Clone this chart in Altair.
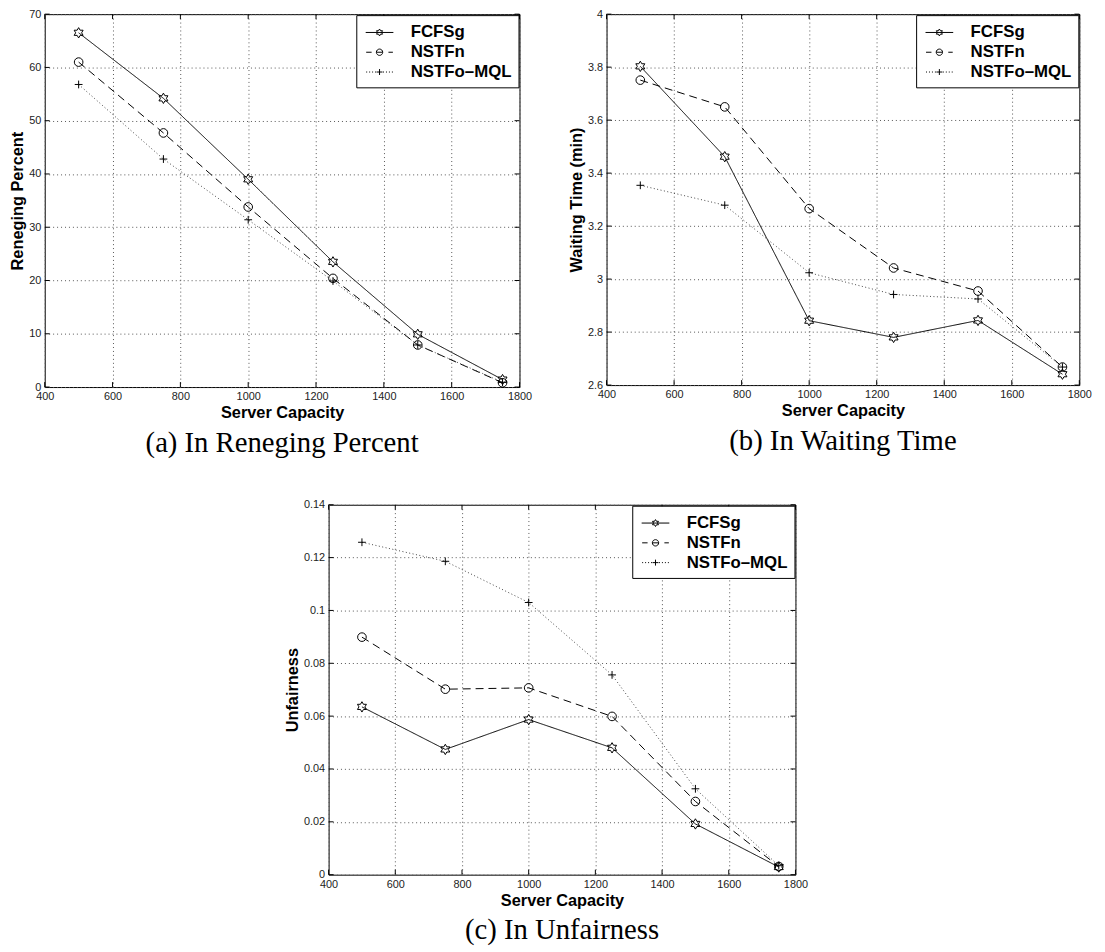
import altair as alt
import pandas as pd

# ---------------- data ----------------
capacity = [500, 750, 1000, 1250, 1500, 1750]
series_names = ["FCFSg", "NSTFn", "NSTFo\u2013MQL"]

reneging_fcfsg = [66.5, 54.2, 39.0, 23.5, 9.9, 1.4]
reneging_nstfn = [61.0, 47.7, 33.8, 20.4, 7.9, 0.8]
reneging_mql = [56.8, 42.8, 31.4, 19.9, 7.9, 0.9]

waiting_fcfsg = [3.803, 3.462, 2.843, 2.780, 2.844, 2.641]
waiting_nstfn = [3.751, 3.650, 3.266, 3.042, 2.955, 2.668]
waiting_mql = [3.354, 3.279, 3.024, 2.942, 2.925, 2.668]

unfair_fcfsg = [0.0635, 0.0474, 0.0587, 0.0480, 0.0192, 0.0029]
unfair_nstfn = [0.0899, 0.0702, 0.0707, 0.0599, 0.0277, 0.0031]
unfair_mql = [0.1258, 0.1186, 0.1030, 0.0756, 0.0325, 0.0034]

x_ticks = [400, 600, 800, 1000, 1200, 1400, 1600, 1800]
a_ticks = [0, 10, 20, 30, 40, 50, 60, 70]
b_ticks = [2.6, 2.8, 3.0, 3.2, 3.4, 3.6, 3.8, 4.0]
c_ticks = [0, 0.02, 0.04, 0.06, 0.08, 0.1, 0.12, 0.14]

# ---------------- styles ----------------
STAR = ("M0,-1.2L0.346,-0.6L1.039,-0.6L0.693,0L1.039,0.6L0.346,0.6L0,1.2"
        "L-0.346,0.6L-1.039,0.6L-0.693,0L-1.039,-0.6L-0.346,-0.6Z")
PLUS = "M-0.9,0H0.9M0,-0.9V0.9"
marker_paths = [STAR, "circle", PLUS]

LEG_STAR = ("M-1.4,0H1.4M0,-0.35L0.101,-0.175L0.303,-0.175L0.202,0L0.303,0.175"
            "L0.101,0.175L0,0.35L-0.101,0.175L-0.303,0.175L-0.202,0L-0.303,-0.175"
            "L-0.101,-0.175Z")
LEG_CIRC = ("M-1.35,0H-0.8M-0.3,0H0.3M0.9,0H1.35"
            "M0.32,0A0.32,0.32 0 1,1 -0.32,0A0.32,0.32 0 1,1 0.32,0")
LEG_PLUS = ("M-1.35,0h0.1M-1.05,0h0.1M-0.75,0h0.1M-0.45,0h0.1"
            "M0.35,0h0.1M0.65,0h0.1M0.95,0h0.1M1.25,0h0.1"
            "M-0.3,0H0.3M0,-0.3V0.3")
legend_paths = [LEG_STAR, LEG_CIRC, LEG_PLUS]

line_colors = ["#000000", "#000000", "#444444"]
dash_styles = [[1, 0], [8, 5], [1, 2.5]]

SANS = "Liberation Sans"
SERIF = "Liberation Serif"


def panel(vals, y_ticks, y_title, caption, w, h, yfmt):
    rows = []
    for name, v in zip(series_names, vals):
        for c, y in zip(capacity, v):
            rows.append({"capacity": c, "series": name, "value": y})
    df = pd.DataFrame(rows)
    ymin, ymax = y_ticks[0], y_ticks[-1]
    xmin, xmax = x_ticks[0], x_ticks[-1]
    xs = alt.Scale(domain=[xmin, xmax], nice=False, zero=False)
    ys = alt.Scale(domain=[ymin, ymax], nice=False, zero=False)
    xax = alt.Axis(values=x_ticks, format="d", title="Server Capacity")
    yax = alt.Axis(values=y_ticks, format=yfmt, title=y_title)
    X = alt.X("capacity:Q", scale=xs, axis=xax)
    Y = alt.Y("value:Q", scale=ys, axis=yax)

    base = alt.Chart(df)
    lines = base.mark_line(strokeWidth=1).encode(
        X, Y,
        color=alt.Color("series:N", scale=alt.Scale(domain=series_names, range=line_colors), legend=None),
        strokeDash=alt.StrokeDash("series:N", scale=alt.Scale(domain=series_names, range=dash_styles), legend=None),
    )
    points = base.mark_point(filled=False, color="black", strokeWidth=1, opacity=1, size=76).encode(
        X, Y,
        shape=alt.Shape("series:N", scale=alt.Scale(domain=series_names, range=marker_paths), legend=None),
    )
    legend_layer = base.transform_filter("false").mark_point(
        filled=False, color="black", strokeWidth=1, opacity=1
    ).encode(
        X, Y,
        shape=alt.Shape(
            "series:N",
            scale=alt.Scale(domain=series_names, range=legend_paths),
            legend=alt.Legend(
                title=None, orient="top-right", offset=1, padding=7,
                strokeColor="black", fillColor="white", cornerRadius=0,
                symbolSize=400, symbolStrokeWidth=1, symbolStrokeColor="black",
                symbolFillColor="transparent", symbolOffset=6,
                labelFont=SANS, labelFontSize=17,
                labelFontWeight="bold", labelColor="black", labelOffset=21,
                rowPadding=1,
            ),
        ),
    )

    xt = pd.DataFrame({"t": x_ticks})
    yt = pd.DataFrame({"t": y_ticks})
    XT = alt.X("t:Q", scale=xs, axis=xax)
    YT = alt.Y("t:Q", scale=ys, axis=yax)
    tick_bottom = alt.Chart(xt).mark_rule(color="black", strokeWidth=1, y2Offset=-5).encode(
        XT, y=alt.YDatum(ymin, scale=ys, axis=yax), y2=alt.Y2Datum(ymin))
    tick_top = alt.Chart(xt).mark_rule(color="black", strokeWidth=1, y2Offset=5).encode(
        XT, y=alt.YDatum(ymax, scale=ys, axis=yax), y2=alt.Y2Datum(ymax))
    tick_left = alt.Chart(yt).mark_rule(color="black", strokeWidth=1, x2Offset=5).encode(
        YT, x=alt.XDatum(xmin, scale=xs, axis=xax), x2=alt.X2Datum(xmin))
    tick_right = alt.Chart(yt).mark_rule(color="black", strokeWidth=1, x2Offset=-5).encode(
        YT, x=alt.XDatum(xmax, scale=xs, axis=xax), x2=alt.X2Datum(xmax))

    return alt.layer(
        lines, points, tick_bottom, tick_top, tick_left, tick_right, legend_layer
    ).resolve_scale(shape="independent").properties(
        width=w, height=h,
        title=alt.Title(caption, orient="bottom", font=SERIF, fontSize=29,
                        fontWeight="normal", color="black", offset=8, anchor="middle"),
    )


pa = panel([reneging_fcfsg, reneging_nstfn, reneging_mql], a_ticks,
           "Reneging Percent", "(a) In Reneging Percent", 480, 377, "d")
pb = panel([waiting_fcfsg, waiting_nstfn, waiting_mql], b_ticks,
           "Waiting Time (min)", "(b) In Waiting Time", 478, 375, "~g")
pc = panel([unfair_fcfsg, unfair_nstfn, unfair_mql], c_ticks,
           "Unfairness", "(c) In Unfairness", 472, 374, "~g")

top = alt.hconcat(pa, pb, spacing=36).resolve_scale(
    shape="independent", color="independent", strokeDash="independent")
chart = alt.vconcat(top, pc, spacing=40, center=True).resolve_scale(
    shape="independent", color="independent", strokeDash="independent"
).properties(
    padding={"left": 1, "top": -6, "right": 5, "bottom": 5},
    background="white",
).configure_view(
    stroke="black", strokeWidth=1
).configure_axis(
    labelFont=SANS, labelFontSize=11, labelColor="#222222",
    titleFont=SANS, titleFontSize=16.5, titleFontWeight="bold", titleColor="black",
    ticks=False, domain=False, grid=True, gridColor="#555555", gridDash=[1, 3],
    gridWidth=1, labelPadding=4, labelFlush=False, labelOverlap=False,
).configure_axisX(titlePadding=3).configure_axisY(titlePadding=3)

chart.save("out.html", embed_options={"renderer": "svg", "actions": False})
